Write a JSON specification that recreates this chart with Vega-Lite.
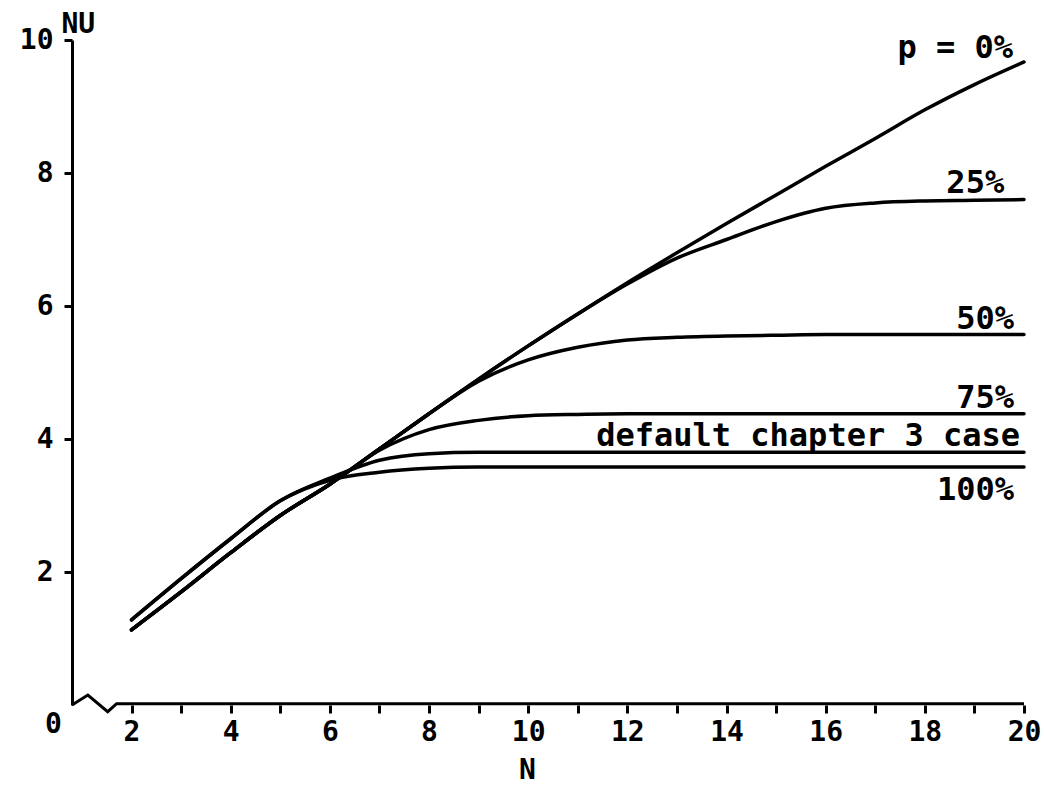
{
  "$schema": "https://vega.github.io/schema/vega-lite/v6.json",
  "autosize": "none",
  "padding": {"left": 72, "top": 40, "right": 20, "bottom": 81},
  "width": 952,
  "height": 665,
  "background": "white",
  "config": {
    "view": {"stroke": null},
    "axis": {
      "domainColor": "black", "domainWidth": 3, "tickColor": "black", "tickWidth": 3,
      "labelColor": "black", "titleColor": "black",
      "labelFont": "DejaVu Sans Mono", "labelFontWeight": "bold", "labelFontSize": 28,
      "titleFont": "DejaVu Sans Mono", "titleFontWeight": "bold", "titleFontSize": 28,
      "grid": false
    }
  },
  "datasets": {
    "curves": [
      {"series": "0%", "N": 2, "NU": 1.13}, {"series": "0%", "N": 3, "NU": 1.70}, {"series": "0%", "N": 4, "NU": 2.29}, {"series": "0%", "N": 5, "NU": 2.85}, {"series": "0%", "N": 6, "NU": 3.32}, {"series": "0%", "N": 7, "NU": 3.85}, {"series": "0%", "N": 8, "NU": 4.38}, {"series": "0%", "N": 9, "NU": 4.90}, {"series": "0%", "N": 10, "NU": 5.40}, {"series": "0%", "N": 11, "NU": 5.88}, {"series": "0%", "N": 12, "NU": 6.35}, {"series": "0%", "N": 13, "NU": 6.80}, {"series": "0%", "N": 14, "NU": 7.24}, {"series": "0%", "N": 15, "NU": 7.67}, {"series": "0%", "N": 16, "NU": 8.10}, {"series": "0%", "N": 17, "NU": 8.52}, {"series": "0%", "N": 18, "NU": 8.95}, {"series": "0%", "N": 19, "NU": 9.33}, {"series": "0%", "N": 20, "NU": 9.67},
      {"series": "25%", "N": 2, "NU": 1.13}, {"series": "25%", "N": 3, "NU": 1.70}, {"series": "25%", "N": 4, "NU": 2.29}, {"series": "25%", "N": 5, "NU": 2.85}, {"series": "25%", "N": 6, "NU": 3.32}, {"series": "25%", "N": 7, "NU": 3.85}, {"series": "25%", "N": 8, "NU": 4.38}, {"series": "25%", "N": 9, "NU": 4.90}, {"series": "25%", "N": 10, "NU": 5.40}, {"series": "25%", "N": 11, "NU": 5.88}, {"series": "25%", "N": 12, "NU": 6.33}, {"series": "25%", "N": 13, "NU": 6.72}, {"series": "25%", "N": 14, "NU": 7.00}, {"series": "25%", "N": 15, "NU": 7.27}, {"series": "25%", "N": 16, "NU": 7.47}, {"series": "25%", "N": 17, "NU": 7.55}, {"series": "25%", "N": 18, "NU": 7.58}, {"series": "25%", "N": 19, "NU": 7.59}, {"series": "25%", "N": 20, "NU": 7.60},
      {"series": "50%", "N": 2, "NU": 1.13}, {"series": "50%", "N": 3, "NU": 1.70}, {"series": "50%", "N": 4, "NU": 2.29}, {"series": "50%", "N": 5, "NU": 2.85}, {"series": "50%", "N": 6, "NU": 3.32}, {"series": "50%", "N": 7, "NU": 3.85}, {"series": "50%", "N": 8, "NU": 4.38}, {"series": "50%", "N": 9, "NU": 4.87}, {"series": "50%", "N": 10, "NU": 5.19}, {"series": "50%", "N": 11, "NU": 5.38}, {"series": "50%", "N": 12, "NU": 5.49}, {"series": "50%", "N": 13, "NU": 5.53}, {"series": "50%", "N": 14, "NU": 5.55}, {"series": "50%", "N": 15, "NU": 5.56}, {"series": "50%", "N": 16, "NU": 5.57}, {"series": "50%", "N": 17, "NU": 5.57}, {"series": "50%", "N": 18, "NU": 5.57}, {"series": "50%", "N": 19, "NU": 5.57}, {"series": "50%", "N": 20, "NU": 5.57},
      {"series": "75%", "N": 2, "NU": 1.13}, {"series": "75%", "N": 3, "NU": 1.70}, {"series": "75%", "N": 4, "NU": 2.29}, {"series": "75%", "N": 5, "NU": 2.85}, {"series": "75%", "N": 6, "NU": 3.32}, {"series": "75%", "N": 7, "NU": 3.83}, {"series": "75%", "N": 8, "NU": 4.14}, {"series": "75%", "N": 9, "NU": 4.28}, {"series": "75%", "N": 10, "NU": 4.35}, {"series": "75%", "N": 11, "NU": 4.37}, {"series": "75%", "N": 12, "NU": 4.38}, {"series": "75%", "N": 14, "NU": 4.38}, {"series": "75%", "N": 16, "NU": 4.38}, {"series": "75%", "N": 18, "NU": 4.38}, {"series": "75%", "N": 20, "NU": 4.38},
      {"series": "default", "N": 2, "NU": 1.28}, {"series": "default", "N": 3, "NU": 1.90}, {"series": "default", "N": 4, "NU": 2.50}, {"series": "default", "N": 5, "NU": 3.07}, {"series": "default", "N": 6, "NU": 3.41}, {"series": "default", "N": 7, "NU": 3.68}, {"series": "default", "N": 8, "NU": 3.78}, {"series": "default", "N": 9, "NU": 3.80}, {"series": "default", "N": 10, "NU": 3.80}, {"series": "default", "N": 12, "NU": 3.80}, {"series": "default", "N": 14, "NU": 3.80}, {"series": "default", "N": 16, "NU": 3.80}, {"series": "default", "N": 18, "NU": 3.80}, {"series": "default", "N": 20, "NU": 3.80},
      {"series": "100%", "N": 2, "NU": 1.28}, {"series": "100%", "N": 3, "NU": 1.90}, {"series": "100%", "N": 4, "NU": 2.50}, {"series": "100%", "N": 5, "NU": 3.07}, {"series": "100%", "N": 6, "NU": 3.38}, {"series": "100%", "N": 7, "NU": 3.50}, {"series": "100%", "N": 8, "NU": 3.56}, {"series": "100%", "N": 9, "NU": 3.58}, {"series": "100%", "N": 10, "NU": 3.58}, {"series": "100%", "N": 12, "NU": 3.58}, {"series": "100%", "N": 14, "NU": 3.58}, {"series": "100%", "N": 16, "NU": 3.58}, {"series": "100%", "N": 18, "NU": 3.58}, {"series": "100%", "N": 20, "NU": 3.58}
    ],
    "axisbreak": [
      {"N": 0.8, "NU": 0}, {"N": 1.12, "NU": 0.15}, {"N": 1.52, "NU": -0.1}, {"N": 1.7, "NU": 0.02}, {"N": 20, "NU": 0.02}
    ],
    "labels": [
      {"text": "p = 0%", "N": 19.78, "NU": 9.73},
      {"text": "25%", "N": 19.6, "NU": 7.7},
      {"text": "50%", "N": 19.8, "NU": 5.66},
      {"text": "75%", "N": 19.8, "NU": 4.47},
      {"text": "default chapter 3 case", "N": 19.92, "NU": 3.9},
      {"text": "100%", "N": 19.8, "NU": 3.08}
    ]
  },
  "encoding": {
    "x": {
      "field": "N", "type": "quantitative",
      "scale": {"domain": [0.8, 20], "nice": false, "zero": false},
      "axis": {
        "title": "N", "titleX": 455, "titleY": 73, "titleBaseline": "alphabetic", "titleAlign": "center",
        "domain": false,
        "values": [0.8, 2, 3, 4, 5, 6, 7, 8, 9, 10, 11, 12, 13, 14, 15, 16, 17, 18, 19, 20],
        "labelExpr": "datum.value < 1 ? '0' : (datum.value % 2 == 0 ? datum.label : '')",
        "tickSize": {"condition": {"test": "datum.value < 1", "value": 0}, "value": 8},
        "labelOffset": {"condition": {"test": "datum.value < 1", "value": -19}, "value": 0},
        "labelPadding": 5, "labelBaseline": "top", "labelFlush": false, "labelOverlap": false
      }
    },
    "y": {
      "field": "NU", "type": "quantitative",
      "scale": {"domain": [0, 10], "nice": false},
      "axis": {
        "title": "NU", "titleAngle": 0, "titleAlign": "left", "titleBaseline": "alphabetic",
        "titleX": -11, "titleY": -8,
        "values": [2, 4, 6, 8, 10], "tickSize": 8, "labelPadding": 11
      }
    }
  },
  "layer": [
    {
      "data": {"name": "curves"},
      "mark": {"type": "line", "color": "black", "strokeWidth": 3.5, "interpolate": "monotone", "strokeCap": "round"},
      "encoding": {"detail": {"field": "series"}}
    },
    {
      "data": {"name": "axisbreak"},
      "mark": {"type": "line", "color": "black", "strokeWidth": 3, "clip": false},
      "encoding": {}
    },
    {
      "data": {"name": "labels"},
      "mark": {"type": "text", "font": "DejaVu Sans Mono", "fontWeight": "bold", "fontSize": 32, "align": "right", "baseline": "alphabetic", "color": "black"},
      "encoding": {"text": {"field": "text"}}
    }
  ]
}
